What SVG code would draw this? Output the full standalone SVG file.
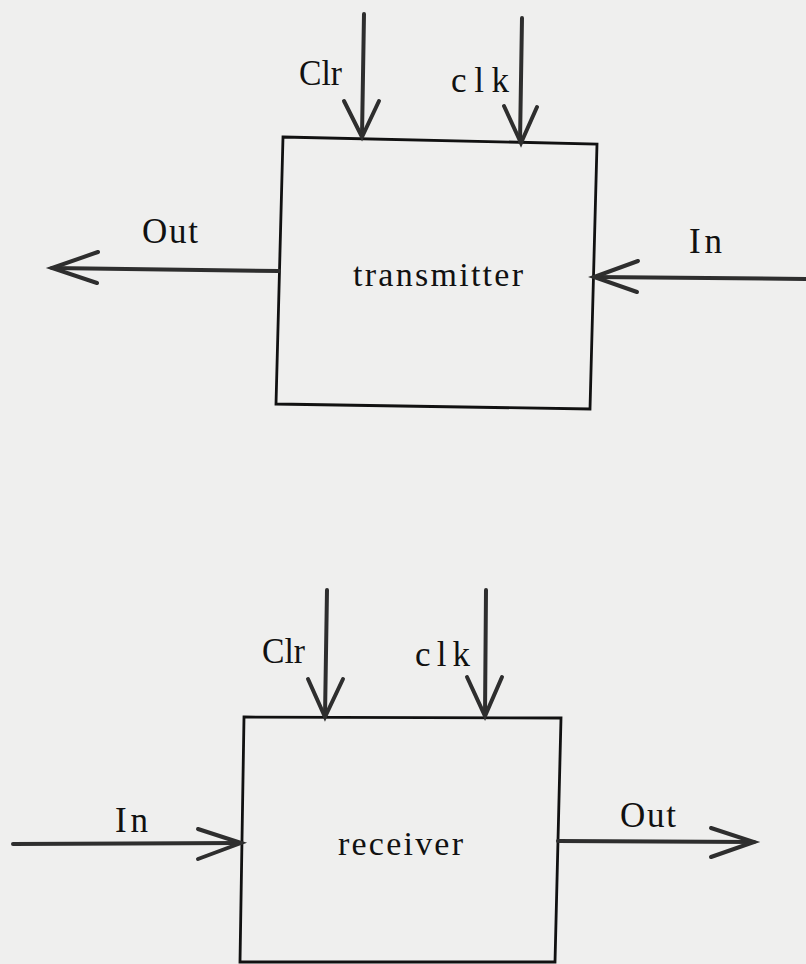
<svg xmlns="http://www.w3.org/2000/svg" width="806" height="964" viewBox="0 0 806 964">
<style>
.bg{fill:#efefee}
.box{fill:none;stroke:#111;stroke-width:2.8;stroke-linejoin:miter}
.wire{fill:none;stroke:#2e2e2e;stroke-width:4;stroke-linecap:round;stroke-linejoin:miter}
.lbl{font-family:"Liberation Serif","Times New Roman",serif;font-size:35px;fill:#111}
.name{font-family:"Liberation Serif","Times New Roman",serif;font-size:34px;fill:#111}
</style>
<rect class="bg" x="0" y="0" width="806" height="964"/>
<g id="transmitter">
  <polygon class="box" points="283,137 597,144 590,409 276,404"/>
  <text class="name" x="353" y="286" textLength="170" lengthAdjust="spacing">transmitter</text>
</g>
<g id="receiver">
  <polygon class="box" points="244,717 561,718 555,962 240,962"/>
  <text class="name" x="338" y="855" textLength="125" lengthAdjust="spacing">receiver</text>
</g>
<g id="connectors">
  <path class="wire" d="M364,14 L362,136"/>
  <path class="wire" d="M344,101 L362,137 L379,101"/>
  <path class="wire" d="M522,18 L520,142"/>
  <path class="wire" d="M504,106 L521,143 L537,107"/>
  <path class="wire" d="M279,271 L52,268"/>
  <path class="wire" d="M98,252 L52,268 L97,283"/>
  <path class="wire" d="M806,279 L594,277"/>
  <path class="wire" d="M638,261 L594,277 L637,292"/>
  <path class="wire" d="M327,590 L325,716"/>
  <path class="wire" d="M308,679 L325,717 L343,679"/>
  <path class="wire" d="M486,590 L485,715"/>
  <path class="wire" d="M467,677 L485,716 L502,677"/>
  <path class="wire" d="M13,844 L241,843"/>
  <path class="wire" d="M198,829 L241,843 L198,859"/>
  <path class="wire" d="M558,841 L754,842"/>
  <path class="wire" d="M711,828 L754,842 L711,857"/>
</g>
<g id="labels">
  <text class="lbl" x="299" y="85" textLength="43" lengthAdjust="spacingAndGlyphs">Clr</text>
  <text class="lbl" x="451" y="92" textLength="58" lengthAdjust="spacing">clk</text>
  <text class="lbl" x="142" y="243" textLength="56" lengthAdjust="spacing">Out</text>
  <text class="lbl" x="689" y="253" textLength="33" lengthAdjust="spacing">In</text>
  <text class="lbl" x="262" y="663" textLength="43" lengthAdjust="spacingAndGlyphs">Clr</text>
  <text class="lbl" x="415" y="666" textLength="55" lengthAdjust="spacing">clk</text>
  <text class="lbl" x="115" y="832" textLength="33" lengthAdjust="spacing">In</text>
  <text class="lbl" x="620" y="827" textLength="56" lengthAdjust="spacing">Out</text>
</g>
</svg>
